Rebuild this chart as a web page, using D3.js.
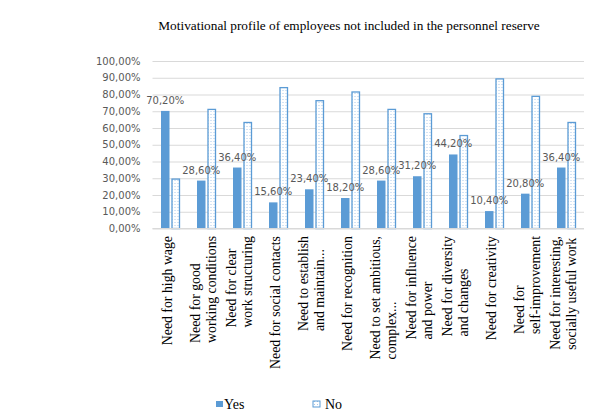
<!DOCTYPE html>
<html lang="en">
<head>
  <meta charset="UTF-8">
  <title>Motivational profile</title>
  <script src="https://d3js.org/d3.v7.min.js"></script>
  <style>
    body { margin: 0; background: white; }
    svg { display: block; }
    .tick-label { font-family: "DejaVu Sans", Verdana, sans-serif; font-size: 10px; fill: #595959; }
    .cat-label { font-family: "Liberation Serif", "Times New Roman", serif; font-size: 13.8px; fill: black; }
  </style>
</head>
<body>
  <svg width="594" height="417"></svg>
  <script>
    const categories = [
      ["Need for high wage"],
      ["Need for good", "working conditions"],
      ["Need for clear", "work structuring"],
      ["Need for social contacts"],
      ["Need to establish", "and maintain..."],
      ["Need for recognition"],
      ["Need to set ambitious,", "complex..."],
      ["Need for influence", "and power"],
      ["Need for diversity", "and changes"],
      ["Need for creativity"],
      ["Need for", "self-improvement"],
      ["Need for interesting,", "socially useful work"]
    ];
    const yesValues = [70.2, 28.6, 36.4, 15.6, 23.4, 18.2, 28.6, 31.2, 44.2, 10.4, 20.8, 36.4];
    const noValues = [29.8, 71.4, 63.6, 84.4, 76.6, 81.8, 71.4, 68.8, 55.8, 89.6, 79.2, 63.6];
    const yTicks = [0, 10, 20, 30, 40, 50, 60, 70, 80, 90, 100];
    const seriesNames = ["Yes", "No"];

    const blue = "#5b9bd5";
    const svg = d3.select("svg");

    const defs = svg.append("defs");
    const pat = defs.append("pattern")
      .attr("id", "dots")
      .attr("patternUnits", "userSpaceOnUse")
      .attr("width", 3).attr("height", 3);
    pat.append("rect").attr("width", 3).attr("height", 3).attr("fill", "white");
    pat.append("rect").attr("x", 1).attr("y", 0).attr("width", 1).attr("height", 1).attr("fill", "#a9c8ea");

    const x = d3.scaleBand()
      .domain(d3.range(categories.length))
      .range([152.5, 584.5]);

    const y = d3.scaleLinear()
      .domain([0, 100])
      .range([228.5, 61]);

    const fmt = v => d3.format(".2f")(v).replace(".", ",") + "%";

    // title
    svg.append("text")
      .attr("x", 349).attr("y", 30)
      .attr("text-anchor", "middle")
      .attr("font-family", "'Liberation Serif', 'Times New Roman', serif")
      .attr("font-size", "13.3px")
      .text("Motivational profile of employees not included in the personnel reserve");

    // gridlines and y axis labels
    const yAxis = d3.axisLeft(y)
      .tickValues(yTicks)
      .tickSize(-(584 - 152.5))
      .tickPadding(12)
      .tickFormat(fmt);

    const yg = svg.append("g")
      .attr("transform", "translate(152.5,0)")
      .call(yAxis);
    yg.select(".domain").remove();
    yg.selectAll(".tick line").attr("stroke", "#d9d9d9").attr("stroke-width", 1);
    yg.selectAll(".tick text").attr("class", "tick-label");

    // bars
    const barW = 8.5;
    const gap = 2;
    const groups = svg.append("g").selectAll("g")
      .data(categories)
      .join("g")
      .attr("transform", (d, i) => `translate(${x(i) + x.bandwidth() / 2},0)`);

    groups.append("rect")
      .attr("x", -barW - gap / 2)
      .attr("y", (d, i) => y(yesValues[i]))
      .attr("width", barW)
      .attr("height", (d, i) => y(0) - y(yesValues[i]))
      .attr("fill", blue);

    groups.append("rect")
      .attr("x", gap / 2 + 0.5)
      .attr("y", (d, i) => y(noValues[i]) + 0.5)
      .attr("width", barW - 1)
      .attr("height", (d, i) => y(0) - y(noValues[i]) - 0.5)
      .attr("fill", "url(#dots)")
      .attr("stroke", blue)
      .attr("stroke-width", 1.3);

    // data labels for Yes
    groups.append("text")
      .attr("class", "tick-label")
      .attr("x", -barW / 2 - gap / 2)
      .attr("y", (d, i) => y(yesValues[i]) - 7)
      .attr("text-anchor", "middle")
      .text((d, i) => fmt(yesValues[i]));

    // axis line
    svg.append("line")
      .attr("x1", 152.5).attr("x2", 584)
      .attr("y1", y(0)).attr("y2", y(0))
      .attr("stroke", "#d9d9d9");

    // category labels (rotated, lines start-aligned, block aligned to top)
    const labelTop = 236;
    const lineGap = 16;
    groups.each(function(lines) {
      const g = d3.select(this);
      const t = g.append("text")
        .attr("class", "cat-label")
        .attr("transform", "rotate(-90)");
      lines.forEach((line, k) => {
        t.append("tspan")
          .attr("y", 1 + (k - (lines.length - 1) / 2) * lineGap)
          .text(line);
      });
      let maxLen = 0;
      t.selectAll("tspan").each(function() {
        maxLen = Math.max(maxLen, this.getComputedTextLength());
      });
      t.selectAll("tspan").attr("x", -(labelTop + maxLen));
    });

    // legend
    const legend = svg.append("g").attr("transform", "translate(216,401)");
    const items = legend.selectAll("g")
      .data(seriesNames)
      .join("g")
      .attr("transform", (d, i) => `translate(${i * 97},0)`);
    items.append("rect")
      .attr("width", 7).attr("height", 6)
      .attr("fill", (d, i) => i === 0 ? blue : "url(#dots)")
      .attr("stroke", (d, i) => i === 0 ? "none" : blue)
      .attr("stroke-width", 1);
    items.append("text")
      .attr("x", (d, i) => i === 0 ? 8 : 12)
      .attr("y", 8)
      .attr("font-family", "'Liberation Serif', 'Times New Roman', serif")
      .attr("font-size", "14px")
      .text(d => d);
  </script>
</body>
</html>
